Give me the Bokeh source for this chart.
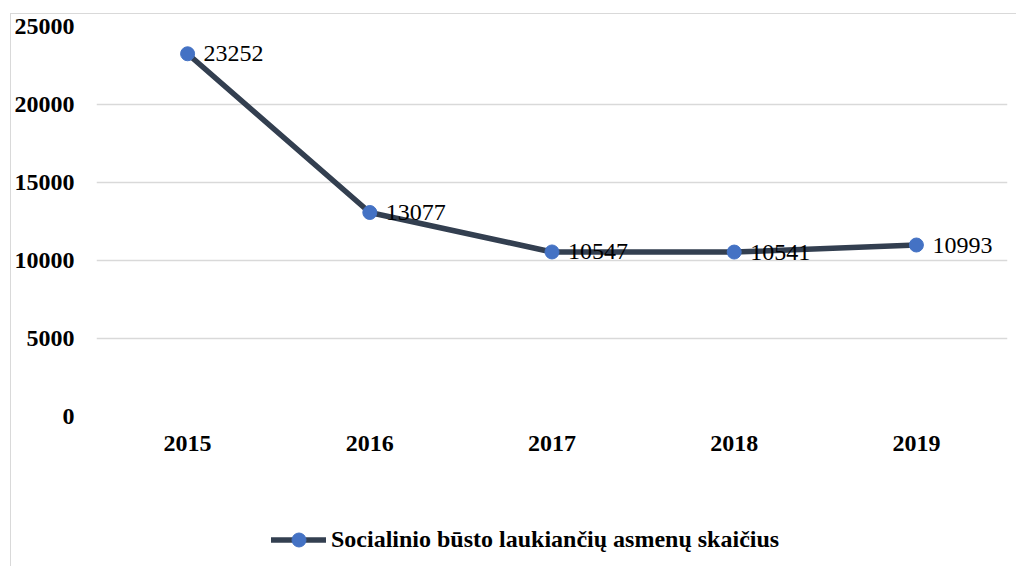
from bokeh.plotting import figure
from bokeh.layouts import column
from bokeh.models import Range1d, ColumnDataSource, Legend, LegendItem, FixedTicker, NumeralTickFormatter
from bokeh.embed import file_html
from bokeh.resources import INLINE
from bokeh.core.properties import value

years = ["2015", "2016", "2017", "2018", "2019"]
counts = [23252, 13077, 10547, 10541, 10993]
labels = [str(c) for c in counts]
series_name = "Socialinio būsto laukiančių asmenų skaičius"
y_ticks = [0, 5000, 10000, 15000, 20000, 25000]

FONT = "Liberation Serif"
FS = "24px"
LINE_COLOR = "#333F50"
MARKER_COLOR = "#4472C4"

src = ColumnDataSource(dict(x=years, y=counts, t=labels))

p = figure(width=1005, height=457, x_range=years, y_range=Range1d(0, 25000),
           output_backend="svg", toolbar_location=None,
           min_border_left=83, min_border_right=9, min_border_top=12, min_border_bottom=55)
p.outline_line_color = None
p.background_fill_color = "white"
p.border_fill_color = "white"

p.line("x", "y", source=src, line_color=LINE_COLOR, line_width=5.5, line_cap="round", line_join="round")
p.scatter("x", "y", source=src, size=14, fill_color=MARKER_COLOR, line_color=MARKER_COLOR)
p.text("x", "y", text="t", source=src, x_offset=16, text_align="left", text_baseline="middle",
       text_font=value(FONT), text_font_size=FS, text_color="black")

p.yaxis.ticker = FixedTicker(ticks=y_ticks)
p.yaxis.formatter = NumeralTickFormatter(format="0")
p.ygrid.ticker = FixedTicker(ticks=y_ticks)
p.ygrid.grid_line_color = "#d9d9d9"
p.ygrid.grid_line_width = 1.5
p.xgrid.grid_line_color = None

for ax in (p.xaxis, p.yaxis):
    ax.axis_line_color = None
    ax.major_tick_line_color = None
    ax.minor_tick_line_color = None
    ax.major_label_text_font = FONT
    ax.major_label_text_font_style = "bold"
    ax.major_label_text_font_size = FS
    ax.major_label_text_color = "black"
p.yaxis.major_label_standoff = 16
p.xaxis.major_label_standoff = 13

# legend strip below the chart (its renderers are hidden; only the legend shows)
leg = figure(width=1005, height=95, x_range=years, y_range=Range1d(0, 25000),
             output_backend="svg", toolbar_location=None,
             min_border_left=0, min_border_right=0, min_border_top=0, min_border_bottom=0)
leg.axis.visible = False
leg.grid.visible = False
leg.outline_line_color = None
leg.border_fill_color = "white"
lr = leg.line("x", "y", source=src, line_color=LINE_COLOR, line_width=5.5, line_cap="round", visible=False)
ls = leg.scatter("x", "y", source=src, size=14, fill_color=MARKER_COLOR, line_color=MARKER_COLOR, visible=False)
legend = Legend(items=[LegendItem(label=series_name, renderers=[lr, ls])],
                location=(175, 9), orientation="horizontal",
                label_text_font=FONT, label_text_font_style="bold", label_text_font_size=FS,
                label_text_color="black", glyph_width=55, glyph_height=35, label_height=35,
                label_standoff=5, padding=0, margin=0, spacing=0,
                inactive_fill_alpha=0,
                border_line_color=None, background_fill_alpha=0)
leg.add_layout(legend, "center")

layout = column(p, leg, spacing=0)
layout.styles = {"border-left": "1px solid #d9d9d9", "border-top": "1px solid #d9d9d9",
                 "margin-left": "10px", "margin-top": "13px"}

open("out.html", "w").write(file_html(layout, INLINE))
